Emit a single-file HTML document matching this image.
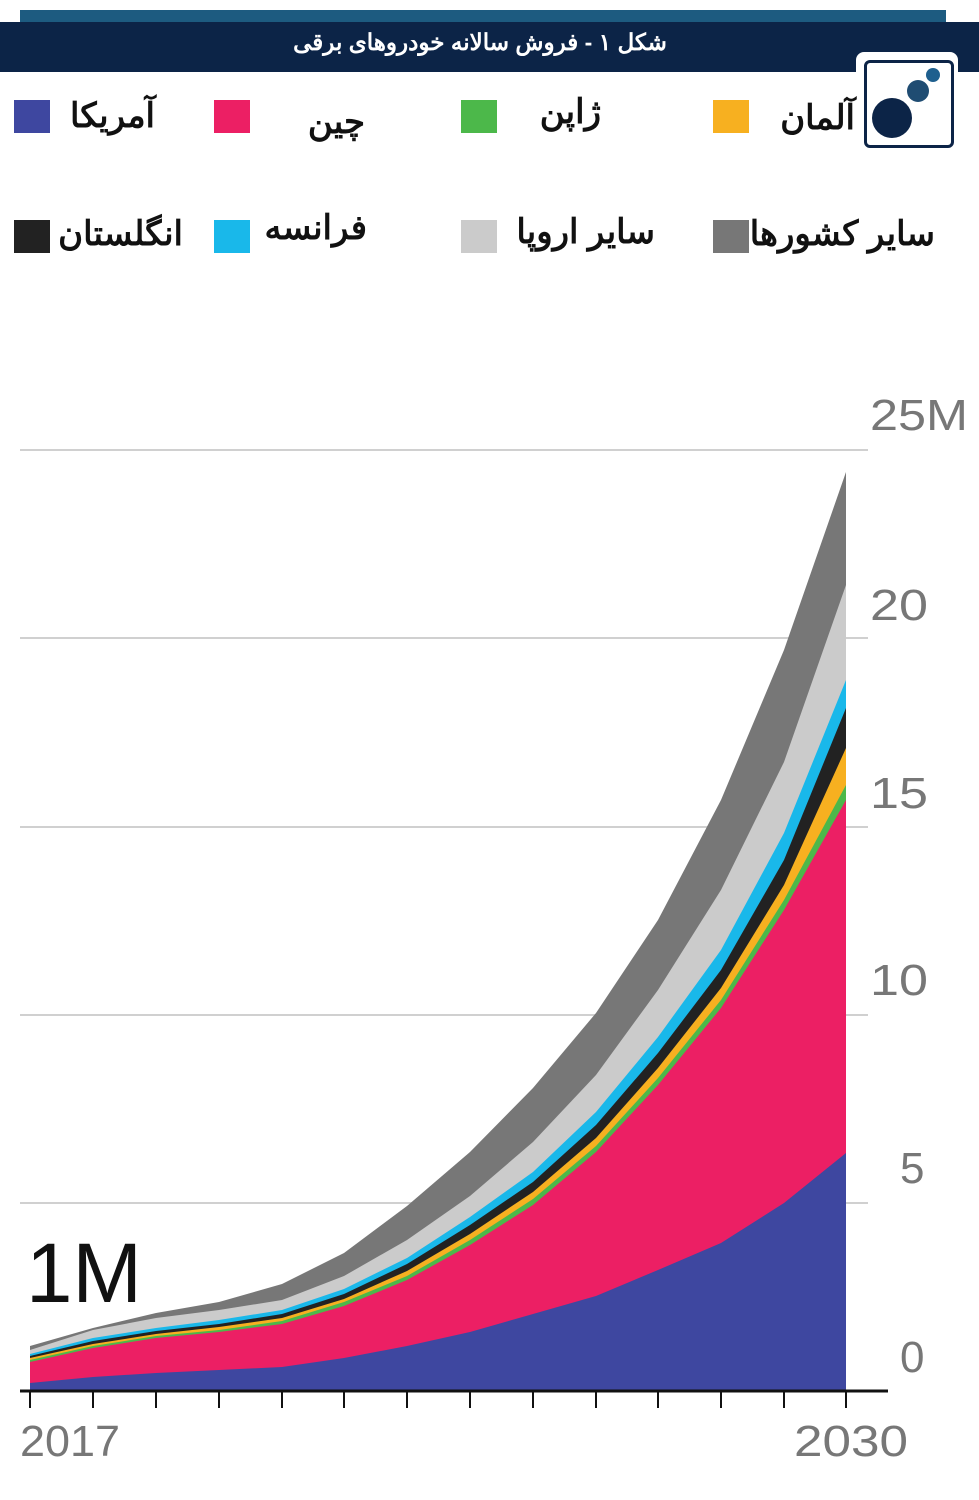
<!DOCTYPE html>
<html><head><meta charset="utf-8"><style>
body{margin:0;width:979px;height:1500px;background:#fff;position:relative;overflow:hidden;font-family:"Liberation Sans","Noto Sans CJK SC",sans-serif}
.a{position:absolute}
.fa{font-family:"Liberation Sans","Noto Sans CJK SC",sans-serif;font-weight:bold;font-size:34px;color:#111;direction:rtl;white-space:nowrap}
.sq{position:absolute;width:36px;height:33px}
</style></head><body>
<div class="a" style="left:20px;top:10px;width:926px;height:14px;background:#1d5b80"></div>
<div class="a" style="left:0;top:22px;width:979px;height:50px;background:#0c2447"></div>
<div class="a" style="left:260px;top:29px;width:440px;text-align:center;color:#fff;font-weight:bold;font-size:23px;direction:rtl">شکل ۱ - فروش سالانه خودروهای برقی</div>
<div class="a" style="left:856px;top:52px;width:102px;height:96px;background:#fff;border-radius:8px"></div>
<div class="a" style="left:864px;top:60px;width:84px;height:82px;border:3px solid #0c2447;border-radius:6px;background:#fff"></div>
<div class="a" style="left:872px;top:98px;width:40px;height:40px;border-radius:50%;background:#0c2447"></div>
<div class="a" style="left:907px;top:80px;width:22px;height:22px;border-radius:50%;background:#1f4c72"></div>
<div class="a" style="left:926px;top:68px;width:14px;height:14px;border-radius:50%;background:#1e5f8e"></div>

<div class="sq" style="left:14px;top:100px;background:#3e47a0"></div>
<div class="a fa" style="right:824px;top:96px">آمریکا</div>
<div class="sq" style="left:214px;top:100px;background:#ec1f64"></div>
<div class="a fa" style="right:614px;top:102px">چین</div>
<div class="sq" style="left:461px;top:100px;background:#4cb84a"></div>
<div class="a fa" style="right:378px;top:92px">ژاپن</div>
<div class="sq" style="left:713px;top:100px;background:#f7b020"></div>
<div class="a fa" style="right:124px;top:98px">آلمان</div>

<div class="sq" style="left:14px;top:220px;background:#222"></div>
<div class="a fa" style="right:796px;top:214px">انگلستان</div>
<div class="sq" style="left:214px;top:220px;background:#19b8ea"></div>
<div class="a fa" style="right:612px;top:208px">فرانسه</div>
<div class="sq" style="left:461px;top:220px;background:#cbcbcb"></div>
<div class="a fa" style="right:324px;top:212px">سایر اروپا</div>
<div class="sq" style="left:713px;top:220px;background:#777"></div>
<div class="a fa" style="right:44px;top:214px">سایر کشورها</div>

<svg class="a" style="left:0;top:0" width="979" height="1500">
<g stroke="#d0d0d0" stroke-width="2">
<line x1="20" y1="450" x2="868" y2="450"/><line x1="20" y1="638" x2="868" y2="638"/><line x1="20" y1="827" x2="868" y2="827"/><line x1="20" y1="1015" x2="868" y2="1015"/><line x1="20" y1="1203" x2="868" y2="1203"/>
</g>
<g id="areas"></g>
<line x1="20" y1="1391" x2="888" y2="1391" stroke="#111" stroke-width="3"/>
<g stroke="#111" stroke-width="2" id="ticks"></g>
<g font-family="Liberation Sans" fill="#777" font-size="44">
<text x="870" y="430" textLength="98" lengthAdjust="spacingAndGlyphs">25M</text>
<text x="870" y="620" textLength="58" lengthAdjust="spacingAndGlyphs">20</text>
<text x="870" y="808" textLength="58" lengthAdjust="spacingAndGlyphs">15</text>
<text x="870" y="995" textLength="58" lengthAdjust="spacingAndGlyphs">10</text>
<text x="900" y="1183">5</text><text x="900" y="1372">0</text>
<text x="20" y="1456" textLength="100" lengthAdjust="spacingAndGlyphs">2017</text>
<text x="794" y="1456" textLength="114" lengthAdjust="spacingAndGlyphs">2030</text>
</g>
<text x="26" y="1302" font-family="Liberation Sans" font-size="84" fill="#111" textLength="116" lengthAdjust="spacingAndGlyphs">1M</text>
</svg>
<script>
const xs=[30,93,156,219,282,344,407,470,533,596,658,721,784,846];
const L=[
["#3e47a0",[1383,1377,1373,1370,1367,1358,1346,1332,1314,1296,1270,1243,1203,1153]],
["#ec1f64",[1362,1348,1338,1332,1324,1306,1280,1245,1205,1152,1085,1008,910,800]],
["#4cb84a",[1360,1346,1336,1330,1321,1302,1276,1240,1199,1146,1078,1000,900,785]],
["#f7b020",[1358,1344,1334,1327,1318,1299,1271,1234,1192,1138,1068,988,885,748]],
["#222",[1356,1341,1331,1324,1314,1294,1264,1225,1182,1125,1053,970,860,708]],
["#19b8ea",[1354,1338,1328,1320,1310,1289,1258,1217,1172,1112,1037,950,833,680]],
["#cbcbcb",[1350,1330,1318,1310,1300,1276,1240,1196,1142,1075,990,890,762,585]],
["#777",[1346,1328,1313,1302,1284,1253,1206,1152,1088,1013,920,800,650,472]]];
let h="";
for(let i=L.length-1;i>=0;i--){let p=xs.map((x,j)=>x+","+L[i][1][j]).join(" ");h+=`<polygon fill="${L[i][0]}" points="30,1391 ${p} 846,1391"/>`;}
document.getElementById("areas").innerHTML=h;
document.getElementById("ticks").innerHTML=xs.map(x=>`<line x1="${x}" y1="1391" x2="${x}" y2="1408"/>`).join("");
</script>
</body></html>
